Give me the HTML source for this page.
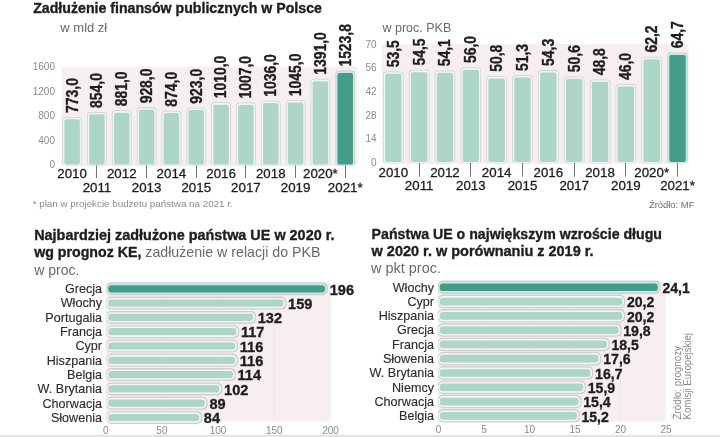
<!DOCTYPE html>
<html><head><meta charset="utf-8"><title>Zadłużenie finansów publicznych</title>
<style>
html,body{margin:0;padding:0;background:#fff;}
body{width:720px;height:437px;overflow:hidden;}
svg{display:block;font-family:'Liberation Sans', Arial, sans-serif;}
</style></head><body>
<svg width="720" height="437" viewBox="0 0 720 437">
<rect width="720" height="437" fill="#ffffff"/>
<text x="33.20" y="13.10" font-size="14.1" font-weight="bold" fill="#1e1e1e" text-anchor="start" textLength="288.7" lengthAdjust="spacingAndGlyphs" stroke="#1e1e1e" stroke-width="0.35">Zadłużenie finansów publicznych w Polsce</text>
<text x="60.30" y="31.70" font-size="13" fill="#6a6a6a" text-anchor="start" >w mld zł</text>
<rect x="61.50" y="66.60" width="296.00" height="99.40" rx="4" fill="#f7eef0" />
<text x="55.00" y="167.50" font-size="10" fill="#8a8a8a" text-anchor="end" >0</text>
<text x="55.00" y="144.02" font-size="10" fill="#8a8a8a" text-anchor="end" >400</text>
<text x="55.00" y="119.35" font-size="10" fill="#8a8a8a" text-anchor="end" >800</text>
<text x="55.00" y="94.67" font-size="10" fill="#8a8a8a" text-anchor="end" >1200</text>
<text x="55.00" y="70.00" font-size="10" fill="#8a8a8a" text-anchor="end" >1600</text>
<rect x="62.25" y="116.91" width="19.70" height="48.89" rx="3.5" fill="#d3cccf" />
<rect x="62.95" y="117.71" width="18.30" height="47.69" rx="3" fill="#eef8f4" />
<rect x="64.35" y="119.31" width="15.50" height="45.09" rx="2" fill="#aed6c8" />
<text transform="translate(77.50,112.91) rotate(-90) scale(0.87,1)" font-size="16" font-weight="bold" fill="#1e1e1e" stroke="#1e1e1e" stroke-width="0.35">773,0</text>
<rect x="87.08" y="111.92" width="19.70" height="53.88" rx="3.5" fill="#d3cccf" />
<rect x="87.78" y="112.72" width="18.30" height="52.68" rx="3" fill="#eef8f4" />
<rect x="89.18" y="114.32" width="15.50" height="50.08" rx="2" fill="#aed6c8" />
<text transform="translate(102.33,107.92) rotate(-90) scale(0.87,1)" font-size="16" font-weight="bold" fill="#1e1e1e" stroke="#1e1e1e" stroke-width="0.35">854,0</text>
<rect x="111.91" y="110.25" width="19.70" height="55.55" rx="3.5" fill="#d3cccf" />
<rect x="112.61" y="111.05" width="18.30" height="54.35" rx="3" fill="#eef8f4" />
<rect x="114.01" y="112.65" width="15.50" height="51.75" rx="2" fill="#aed6c8" />
<text transform="translate(127.16,106.25) rotate(-90) scale(0.87,1)" font-size="16" font-weight="bold" fill="#1e1e1e" stroke="#1e1e1e" stroke-width="0.35">881,0</text>
<rect x="136.74" y="107.35" width="19.70" height="58.45" rx="3.5" fill="#d3cccf" />
<rect x="137.44" y="108.15" width="18.30" height="57.25" rx="3" fill="#eef8f4" />
<rect x="138.84" y="109.75" width="15.50" height="54.65" rx="2" fill="#aed6c8" />
<text transform="translate(151.99,103.35) rotate(-90) scale(0.87,1)" font-size="16" font-weight="bold" fill="#1e1e1e" stroke="#1e1e1e" stroke-width="0.35">928,0</text>
<rect x="161.57" y="110.68" width="19.70" height="55.12" rx="3.5" fill="#d3cccf" />
<rect x="162.27" y="111.48" width="18.30" height="53.92" rx="3" fill="#eef8f4" />
<rect x="163.67" y="113.08" width="15.50" height="51.32" rx="2" fill="#aed6c8" />
<text transform="translate(176.82,106.68) rotate(-90) scale(0.87,1)" font-size="16" font-weight="bold" fill="#1e1e1e" stroke="#1e1e1e" stroke-width="0.35">874,0</text>
<rect x="186.40" y="107.66" width="19.70" height="58.14" rx="3.5" fill="#d3cccf" />
<rect x="187.10" y="108.46" width="18.30" height="56.94" rx="3" fill="#eef8f4" />
<rect x="188.50" y="110.06" width="15.50" height="54.34" rx="2" fill="#aed6c8" />
<text transform="translate(201.65,103.66) rotate(-90) scale(0.87,1)" font-size="16" font-weight="bold" fill="#1e1e1e" stroke="#1e1e1e" stroke-width="0.35">923,0</text>
<rect x="211.23" y="102.29" width="19.70" height="63.51" rx="3.5" fill="#d3cccf" />
<rect x="211.93" y="103.09" width="18.30" height="62.31" rx="3" fill="#eef8f4" />
<rect x="213.33" y="104.69" width="15.50" height="59.71" rx="2" fill="#aed6c8" />
<text transform="translate(226.48,98.29) rotate(-90) scale(0.87,1)" font-size="16" font-weight="bold" fill="#1e1e1e" stroke="#1e1e1e" stroke-width="0.35">1010,0</text>
<rect x="236.06" y="102.48" width="19.70" height="63.32" rx="3.5" fill="#d3cccf" />
<rect x="236.76" y="103.28" width="18.30" height="62.12" rx="3" fill="#eef8f4" />
<rect x="238.16" y="104.88" width="15.50" height="59.52" rx="2" fill="#aed6c8" />
<text transform="translate(251.31,98.48) rotate(-90) scale(0.87,1)" font-size="16" font-weight="bold" fill="#1e1e1e" stroke="#1e1e1e" stroke-width="0.35">1007,0</text>
<rect x="260.89" y="100.69" width="19.70" height="65.11" rx="3.5" fill="#d3cccf" />
<rect x="261.59" y="101.49" width="18.30" height="63.91" rx="3" fill="#eef8f4" />
<rect x="262.99" y="103.09" width="15.50" height="61.31" rx="2" fill="#aed6c8" />
<text transform="translate(276.14,96.69) rotate(-90) scale(0.87,1)" font-size="16" font-weight="bold" fill="#1e1e1e" stroke="#1e1e1e" stroke-width="0.35">1036,0</text>
<rect x="285.72" y="100.13" width="19.70" height="65.67" rx="3.5" fill="#d3cccf" />
<rect x="286.42" y="100.93" width="18.30" height="64.47" rx="3" fill="#eef8f4" />
<rect x="287.82" y="102.53" width="15.50" height="61.87" rx="2" fill="#aed6c8" />
<text transform="translate(300.97,96.13) rotate(-90) scale(0.87,1)" font-size="16" font-weight="bold" fill="#1e1e1e" stroke="#1e1e1e" stroke-width="0.35">1045,0</text>
<rect x="310.55" y="78.79" width="19.70" height="87.01" rx="3.5" fill="#d3cccf" />
<rect x="311.25" y="79.59" width="18.30" height="85.81" rx="3" fill="#eef8f4" />
<rect x="312.65" y="81.19" width="15.50" height="83.21" rx="2" fill="#aed6c8" />
<text transform="translate(325.80,74.79) rotate(-90) scale(0.87,1)" font-size="16" font-weight="bold" fill="#1e1e1e" stroke="#1e1e1e" stroke-width="0.35">1391,0</text>
<rect x="335.38" y="70.60" width="19.70" height="95.20" rx="3.5" fill="#d3cccf" />
<rect x="336.08" y="71.40" width="18.30" height="94.00" rx="3" fill="#c6ebe2" />
<rect x="337.48" y="73.00" width="15.50" height="91.40" rx="2" fill="#449d8a" />
<text transform="translate(350.63,66.60) rotate(-90) scale(0.87,1)" font-size="16" font-weight="bold" fill="#1e1e1e" stroke="#1e1e1e" stroke-width="0.35">1523,8</text>
<text transform="translate(72.10,177.90) scale(1.04,1)" font-size="12.8" fill="#1e1e1e" stroke="#1e1e1e" stroke-width="0.3" text-anchor="middle">2010</text>
<line x1="96.50" y1="165.40" x2="96.50" y2="178.00" stroke="#737373" stroke-width="1"/>
<text transform="translate(96.93,191.60) scale(1.04,1)" font-size="12.8" fill="#1e1e1e" stroke="#1e1e1e" stroke-width="0.3" text-anchor="middle">2011</text>
<text transform="translate(121.76,177.90) scale(1.04,1)" font-size="12.8" fill="#1e1e1e" stroke="#1e1e1e" stroke-width="0.3" text-anchor="middle">2012</text>
<line x1="146.50" y1="165.40" x2="146.50" y2="178.00" stroke="#737373" stroke-width="1"/>
<text transform="translate(146.59,191.60) scale(1.04,1)" font-size="12.8" fill="#1e1e1e" stroke="#1e1e1e" stroke-width="0.3" text-anchor="middle">2013</text>
<text transform="translate(171.42,177.90) scale(1.04,1)" font-size="12.8" fill="#1e1e1e" stroke="#1e1e1e" stroke-width="0.3" text-anchor="middle">2014</text>
<line x1="196.50" y1="165.40" x2="196.50" y2="178.00" stroke="#737373" stroke-width="1"/>
<text transform="translate(196.25,191.60) scale(1.04,1)" font-size="12.8" fill="#1e1e1e" stroke="#1e1e1e" stroke-width="0.3" text-anchor="middle">2015</text>
<text transform="translate(221.08,177.90) scale(1.04,1)" font-size="12.8" fill="#1e1e1e" stroke="#1e1e1e" stroke-width="0.3" text-anchor="middle">2016</text>
<line x1="245.50" y1="165.40" x2="245.50" y2="178.00" stroke="#737373" stroke-width="1"/>
<text transform="translate(245.91,191.60) scale(1.04,1)" font-size="12.8" fill="#1e1e1e" stroke="#1e1e1e" stroke-width="0.3" text-anchor="middle">2017</text>
<text transform="translate(270.74,177.90) scale(1.04,1)" font-size="12.8" fill="#1e1e1e" stroke="#1e1e1e" stroke-width="0.3" text-anchor="middle">2018</text>
<line x1="295.50" y1="165.40" x2="295.50" y2="178.00" stroke="#737373" stroke-width="1"/>
<text transform="translate(295.57,191.60) scale(1.04,1)" font-size="12.8" fill="#1e1e1e" stroke="#1e1e1e" stroke-width="0.3" text-anchor="middle">2019</text>
<text transform="translate(320.40,177.90) scale(1.04,1)" font-size="12.8" fill="#1e1e1e" stroke="#1e1e1e" stroke-width="0.3" text-anchor="middle">2020*</text>
<line x1="345.50" y1="165.40" x2="345.50" y2="178.00" stroke="#737373" stroke-width="1"/>
<text transform="translate(345.23,191.60) scale(1.04,1)" font-size="12.8" fill="#1e1e1e" stroke="#1e1e1e" stroke-width="0.3" text-anchor="middle">2021*</text>
<text x="32.70" y="207.20" font-size="9.8" fill="#8a8a8a" text-anchor="start" textLength="200" lengthAdjust="spacingAndGlyphs">* plan w projekcie budżetu państwa na 2021 r.</text>
<text x="382.50" y="32.00" font-size="12.5" fill="#6a6a6a" text-anchor="start" >w proc. PKB</text>
<rect x="381.50" y="44.00" width="307.30" height="119.70" rx="4" fill="#f7eef0" />
<text x="376.50" y="165.90" font-size="10" fill="#8a8a8a" text-anchor="end" >0</text>
<text x="376.50" y="142.48" font-size="10" fill="#8a8a8a" text-anchor="end" >14</text>
<text x="376.50" y="118.77" font-size="10" fill="#8a8a8a" text-anchor="end" >28</text>
<text x="376.50" y="95.05" font-size="10" fill="#8a8a8a" text-anchor="end" >42</text>
<text x="376.50" y="71.34" font-size="10" fill="#8a8a8a" text-anchor="end" >56</text>
<text x="376.50" y="47.62" font-size="10" fill="#8a8a8a" text-anchor="end" >70</text>
<rect x="383.00" y="71.47" width="20.60" height="91.83" rx="3.5" fill="#d3cccf" />
<rect x="383.70" y="72.27" width="19.20" height="90.63" rx="3" fill="#eef8f4" />
<rect x="385.10" y="73.87" width="16.40" height="88.03" rx="2" fill="#aed6c8" />
<text transform="translate(398.70,67.27) rotate(-90) scale(0.87,1)" font-size="16" font-weight="bold" fill="#1e1e1e" stroke="#1e1e1e" stroke-width="0.35">53,5</text>
<rect x="408.84" y="69.78" width="20.60" height="93.52" rx="3.5" fill="#d3cccf" />
<rect x="409.54" y="70.58" width="19.20" height="92.32" rx="3" fill="#eef8f4" />
<rect x="410.94" y="72.18" width="16.40" height="89.72" rx="2" fill="#aed6c8" />
<text transform="translate(424.54,65.58) rotate(-90) scale(0.87,1)" font-size="16" font-weight="bold" fill="#1e1e1e" stroke="#1e1e1e" stroke-width="0.35">54,5</text>
<rect x="434.68" y="70.45" width="20.60" height="92.85" rx="3.5" fill="#d3cccf" />
<rect x="435.38" y="71.25" width="19.20" height="91.65" rx="3" fill="#eef8f4" />
<rect x="436.78" y="72.85" width="16.40" height="89.05" rx="2" fill="#aed6c8" />
<text transform="translate(450.38,66.25) rotate(-90) scale(0.87,1)" font-size="16" font-weight="bold" fill="#1e1e1e" stroke="#1e1e1e" stroke-width="0.35">54,1</text>
<rect x="460.52" y="67.24" width="20.60" height="96.06" rx="3.5" fill="#d3cccf" />
<rect x="461.22" y="68.04" width="19.20" height="94.86" rx="3" fill="#eef8f4" />
<rect x="462.62" y="69.64" width="16.40" height="92.26" rx="2" fill="#aed6c8" />
<text transform="translate(476.22,63.04) rotate(-90) scale(0.87,1)" font-size="16" font-weight="bold" fill="#1e1e1e" stroke="#1e1e1e" stroke-width="0.35">56,0</text>
<rect x="486.36" y="76.04" width="20.60" height="87.26" rx="3.5" fill="#d3cccf" />
<rect x="487.06" y="76.84" width="19.20" height="86.06" rx="3" fill="#eef8f4" />
<rect x="488.46" y="78.44" width="16.40" height="83.46" rx="2" fill="#aed6c8" />
<text transform="translate(502.06,71.84) rotate(-90) scale(0.87,1)" font-size="16" font-weight="bold" fill="#1e1e1e" stroke="#1e1e1e" stroke-width="0.35">50,8</text>
<rect x="512.20" y="75.20" width="20.60" height="88.10" rx="3.5" fill="#d3cccf" />
<rect x="512.90" y="76.00" width="19.20" height="86.90" rx="3" fill="#eef8f4" />
<rect x="514.30" y="77.60" width="16.40" height="84.30" rx="2" fill="#aed6c8" />
<text transform="translate(527.90,71.00) rotate(-90) scale(0.87,1)" font-size="16" font-weight="bold" fill="#1e1e1e" stroke="#1e1e1e" stroke-width="0.35">51,3</text>
<rect x="538.04" y="70.12" width="20.60" height="93.18" rx="3.5" fill="#d3cccf" />
<rect x="538.74" y="70.92" width="19.20" height="91.98" rx="3" fill="#eef8f4" />
<rect x="540.14" y="72.52" width="16.40" height="89.38" rx="2" fill="#aed6c8" />
<text transform="translate(553.74,65.92) rotate(-90) scale(0.87,1)" font-size="16" font-weight="bold" fill="#1e1e1e" stroke="#1e1e1e" stroke-width="0.35">54,3</text>
<rect x="563.88" y="76.38" width="20.60" height="86.92" rx="3.5" fill="#d3cccf" />
<rect x="564.58" y="77.18" width="19.20" height="85.72" rx="3" fill="#eef8f4" />
<rect x="565.98" y="78.78" width="16.40" height="83.12" rx="2" fill="#aed6c8" />
<text transform="translate(579.58,72.18) rotate(-90) scale(0.87,1)" font-size="16" font-weight="bold" fill="#1e1e1e" stroke="#1e1e1e" stroke-width="0.35">50,6</text>
<rect x="589.72" y="79.43" width="20.60" height="83.87" rx="3.5" fill="#d3cccf" />
<rect x="590.42" y="80.23" width="19.20" height="82.67" rx="3" fill="#eef8f4" />
<rect x="591.82" y="81.83" width="16.40" height="80.07" rx="2" fill="#aed6c8" />
<text transform="translate(605.42,75.23) rotate(-90) scale(0.87,1)" font-size="16" font-weight="bold" fill="#1e1e1e" stroke="#1e1e1e" stroke-width="0.35">48,8</text>
<rect x="615.56" y="84.18" width="20.60" height="79.12" rx="3.5" fill="#d3cccf" />
<rect x="616.26" y="84.98" width="19.20" height="77.92" rx="3" fill="#eef8f4" />
<rect x="617.66" y="86.58" width="16.40" height="75.32" rx="2" fill="#aed6c8" />
<text transform="translate(631.26,79.98) rotate(-90) scale(0.87,1)" font-size="16" font-weight="bold" fill="#1e1e1e" stroke="#1e1e1e" stroke-width="0.35">46,0</text>
<rect x="641.40" y="56.73" width="20.60" height="106.57" rx="3.5" fill="#d3cccf" />
<rect x="642.10" y="57.53" width="19.20" height="105.37" rx="3" fill="#eef8f4" />
<rect x="643.50" y="59.13" width="16.40" height="102.77" rx="2" fill="#aed6c8" />
<text transform="translate(657.10,52.53) rotate(-90) scale(0.87,1)" font-size="16" font-weight="bold" fill="#1e1e1e" stroke="#1e1e1e" stroke-width="0.35">62,2</text>
<rect x="667.24" y="52.50" width="20.60" height="110.80" rx="3.5" fill="#d3cccf" />
<rect x="667.94" y="53.30" width="19.20" height="109.60" rx="3" fill="#c6ebe2" />
<rect x="669.34" y="54.90" width="16.40" height="107.00" rx="2" fill="#449d8a" />
<text transform="translate(682.94,48.30) rotate(-90) scale(0.87,1)" font-size="16" font-weight="bold" fill="#1e1e1e" stroke="#1e1e1e" stroke-width="0.35">64,7</text>
<text transform="translate(393.30,176.70) scale(1.04,1)" font-size="12.8" fill="#1e1e1e" stroke="#1e1e1e" stroke-width="0.3" text-anchor="middle">2010</text>
<line x1="419.50" y1="162.90" x2="419.50" y2="176.70" stroke="#737373" stroke-width="1"/>
<text transform="translate(419.14,190.00) scale(1.04,1)" font-size="12.8" fill="#1e1e1e" stroke="#1e1e1e" stroke-width="0.3" text-anchor="middle">2011</text>
<text transform="translate(444.98,176.70) scale(1.04,1)" font-size="12.8" fill="#1e1e1e" stroke="#1e1e1e" stroke-width="0.3" text-anchor="middle">2012</text>
<line x1="470.50" y1="162.90" x2="470.50" y2="176.70" stroke="#737373" stroke-width="1"/>
<text transform="translate(470.82,190.00) scale(1.04,1)" font-size="12.8" fill="#1e1e1e" stroke="#1e1e1e" stroke-width="0.3" text-anchor="middle">2013</text>
<text transform="translate(496.66,176.70) scale(1.04,1)" font-size="12.8" fill="#1e1e1e" stroke="#1e1e1e" stroke-width="0.3" text-anchor="middle">2014</text>
<line x1="522.50" y1="162.90" x2="522.50" y2="176.70" stroke="#737373" stroke-width="1"/>
<text transform="translate(522.50,190.00) scale(1.04,1)" font-size="12.8" fill="#1e1e1e" stroke="#1e1e1e" stroke-width="0.3" text-anchor="middle">2015</text>
<text transform="translate(548.34,176.70) scale(1.04,1)" font-size="12.8" fill="#1e1e1e" stroke="#1e1e1e" stroke-width="0.3" text-anchor="middle">2016</text>
<line x1="574.50" y1="162.90" x2="574.50" y2="176.70" stroke="#737373" stroke-width="1"/>
<text transform="translate(574.18,190.00) scale(1.04,1)" font-size="12.8" fill="#1e1e1e" stroke="#1e1e1e" stroke-width="0.3" text-anchor="middle">2017</text>
<text transform="translate(600.02,176.70) scale(1.04,1)" font-size="12.8" fill="#1e1e1e" stroke="#1e1e1e" stroke-width="0.3" text-anchor="middle">2018</text>
<line x1="625.50" y1="162.90" x2="625.50" y2="176.70" stroke="#737373" stroke-width="1"/>
<text transform="translate(625.86,190.00) scale(1.04,1)" font-size="12.8" fill="#1e1e1e" stroke="#1e1e1e" stroke-width="0.3" text-anchor="middle">2019</text>
<text transform="translate(651.70,176.70) scale(1.04,1)" font-size="12.8" fill="#1e1e1e" stroke="#1e1e1e" stroke-width="0.3" text-anchor="middle">2020*</text>
<line x1="677.50" y1="162.90" x2="677.50" y2="176.70" stroke="#737373" stroke-width="1"/>
<text transform="translate(677.54,190.00) scale(1.04,1)" font-size="12.8" fill="#1e1e1e" stroke="#1e1e1e" stroke-width="0.3" text-anchor="middle">2021*</text>
<text x="648.90" y="207.80" font-size="9.5" fill="#6a6a6a" text-anchor="start" textLength="45.5" lengthAdjust="spacingAndGlyphs">Źródło: MF</text>
<text x="34.20" y="240.20" font-size="14.4" font-weight="bold" fill="#1e1e1e" text-anchor="start" textLength="300.3" lengthAdjust="spacingAndGlyphs" stroke="#1e1e1e" stroke-width="0.35">Najbardziej zadłużone państwa UE w 2020 r.</text>
<text x="34.2" y="256.9" font-size="14.2" fill="#1e1e1e"><tspan font-weight="bold" stroke="#1e1e1e" stroke-width="0.35">wg prognoz KE,</tspan><tspan fill="#6a6a6a"> zadłużenie w relacji do PKB</tspan></text>
<text x="34.20" y="274.80" font-size="14" fill="#6a6a6a" text-anchor="start" >w proc.</text>
<rect x="105.40" y="282.40" width="225.90" height="139.10" rx="5" fill="#f7eef0" />
<line x1="161.90" y1="283.00" x2="161.90" y2="421.00" stroke="#eee2e6" stroke-width="0.8"/>
<line x1="218.10" y1="283.00" x2="218.10" y2="421.00" stroke="#eee2e6" stroke-width="0.8"/>
<line x1="274.30" y1="283.00" x2="274.30" y2="421.00" stroke="#eee2e6" stroke-width="0.8"/>
<rect x="106.40" y="282.30" width="221.50" height="13.00" rx="5" fill="#d3cccf" />
<rect x="106.70" y="283.60" width="220.10" height="10.40" rx="4.5" fill="#c6ebe2" />
<rect x="108.20" y="285.20" width="216.90" height="7.20" rx="3.2" fill="#449d8a" />
<text x="102.00" y="293.10" font-size="12.6" fill="#2e2e2e" text-anchor="end" stroke="#2e2e2e" stroke-width="0.15">Grecja</text>
<text transform="translate(329.70,294.50) scale(0.94,1)" font-size="15.5" font-weight="bold" fill="#1e1e1e" stroke="#1e1e1e" stroke-width="0.35">196</text>
<rect x="106.40" y="296.60" width="179.92" height="13.00" rx="5" fill="#d3cccf" />
<rect x="106.70" y="297.90" width="178.52" height="10.40" rx="4.5" fill="#eef8f4" />
<rect x="108.20" y="299.50" width="175.32" height="7.20" rx="3.2" fill="#aed6c8" />
<text x="102.00" y="307.40" font-size="12.6" fill="#2e2e2e" text-anchor="end" stroke="#2e2e2e" stroke-width="0.15">Włochy</text>
<text transform="translate(288.12,308.80) scale(0.94,1)" font-size="15.5" font-weight="bold" fill="#1e1e1e" stroke="#1e1e1e" stroke-width="0.35">159</text>
<rect x="106.40" y="310.90" width="149.57" height="13.00" rx="5" fill="#d3cccf" />
<rect x="106.70" y="312.20" width="148.17" height="10.40" rx="4.5" fill="#eef8f4" />
<rect x="108.20" y="313.80" width="144.97" height="7.20" rx="3.2" fill="#aed6c8" />
<text x="102.00" y="321.70" font-size="12.6" fill="#2e2e2e" text-anchor="end" stroke="#2e2e2e" stroke-width="0.15">Portugalia</text>
<text transform="translate(257.77,323.10) scale(0.94,1)" font-size="15.5" font-weight="bold" fill="#1e1e1e" stroke="#1e1e1e" stroke-width="0.35">132</text>
<rect x="106.40" y="325.20" width="132.71" height="13.00" rx="5" fill="#d3cccf" />
<rect x="106.70" y="326.50" width="131.31" height="10.40" rx="4.5" fill="#eef8f4" />
<rect x="108.20" y="328.10" width="128.11" height="7.20" rx="3.2" fill="#aed6c8" />
<text x="102.00" y="336.00" font-size="12.6" fill="#2e2e2e" text-anchor="end" stroke="#2e2e2e" stroke-width="0.15">Francja</text>
<text transform="translate(240.91,337.40) scale(0.94,1)" font-size="15.5" font-weight="bold" fill="#1e1e1e" stroke="#1e1e1e" stroke-width="0.35">117</text>
<rect x="106.40" y="339.50" width="131.58" height="13.00" rx="5" fill="#d3cccf" />
<rect x="106.70" y="340.80" width="130.18" height="10.40" rx="4.5" fill="#eef8f4" />
<rect x="108.20" y="342.40" width="126.98" height="7.20" rx="3.2" fill="#aed6c8" />
<text x="102.00" y="350.30" font-size="12.6" fill="#2e2e2e" text-anchor="end" stroke="#2e2e2e" stroke-width="0.15">Cypr</text>
<text transform="translate(239.78,351.70) scale(0.94,1)" font-size="15.5" font-weight="bold" fill="#1e1e1e" stroke="#1e1e1e" stroke-width="0.35">116</text>
<rect x="106.40" y="353.80" width="131.58" height="13.00" rx="5" fill="#d3cccf" />
<rect x="106.70" y="355.10" width="130.18" height="10.40" rx="4.5" fill="#eef8f4" />
<rect x="108.20" y="356.70" width="126.98" height="7.20" rx="3.2" fill="#aed6c8" />
<text x="102.00" y="364.60" font-size="12.6" fill="#2e2e2e" text-anchor="end" stroke="#2e2e2e" stroke-width="0.15">Hiszpania</text>
<text transform="translate(239.78,366.00) scale(0.94,1)" font-size="15.5" font-weight="bold" fill="#1e1e1e" stroke="#1e1e1e" stroke-width="0.35">116</text>
<rect x="106.40" y="368.10" width="129.34" height="13.00" rx="5" fill="#d3cccf" />
<rect x="106.70" y="369.40" width="127.94" height="10.40" rx="4.5" fill="#eef8f4" />
<rect x="108.20" y="371.00" width="124.74" height="7.20" rx="3.2" fill="#aed6c8" />
<text x="102.00" y="378.90" font-size="12.6" fill="#2e2e2e" text-anchor="end" stroke="#2e2e2e" stroke-width="0.15">Belgia</text>
<text transform="translate(237.54,380.30) scale(0.94,1)" font-size="15.5" font-weight="bold" fill="#1e1e1e" stroke="#1e1e1e" stroke-width="0.35">114</text>
<rect x="106.40" y="382.40" width="115.85" height="13.00" rx="5" fill="#d3cccf" />
<rect x="106.70" y="383.70" width="114.45" height="10.40" rx="4.5" fill="#eef8f4" />
<rect x="108.20" y="385.30" width="111.25" height="7.20" rx="3.2" fill="#aed6c8" />
<text x="102.00" y="393.20" font-size="12.6" fill="#2e2e2e" text-anchor="end" stroke="#2e2e2e" stroke-width="0.15">W. Brytania</text>
<text transform="translate(224.05,394.60) scale(0.94,1)" font-size="15.5" font-weight="bold" fill="#1e1e1e" stroke="#1e1e1e" stroke-width="0.35">102</text>
<rect x="106.40" y="396.70" width="101.24" height="13.00" rx="5" fill="#d3cccf" />
<rect x="106.70" y="398.00" width="99.84" height="10.40" rx="4.5" fill="#eef8f4" />
<rect x="108.20" y="399.60" width="96.64" height="7.20" rx="3.2" fill="#aed6c8" />
<text x="102.00" y="407.50" font-size="12.6" fill="#2e2e2e" text-anchor="end" stroke="#2e2e2e" stroke-width="0.15">Chorwacja</text>
<text transform="translate(209.44,408.90) scale(0.94,1)" font-size="15.5" font-weight="bold" fill="#1e1e1e" stroke="#1e1e1e" stroke-width="0.35">89</text>
<rect x="106.40" y="411.00" width="95.62" height="13.00" rx="5" fill="#d3cccf" />
<rect x="106.70" y="412.30" width="94.22" height="10.40" rx="4.5" fill="#eef8f4" />
<rect x="108.20" y="413.90" width="91.02" height="7.20" rx="3.2" fill="#aed6c8" />
<text x="102.00" y="421.80" font-size="12.6" fill="#2e2e2e" text-anchor="end" stroke="#2e2e2e" stroke-width="0.15">Słowenia</text>
<text transform="translate(203.82,423.20) scale(0.94,1)" font-size="15.5" font-weight="bold" fill="#1e1e1e" stroke="#1e1e1e" stroke-width="0.35">84</text>
<text x="105.70" y="433.50" font-size="10" fill="#8a8a8a" text-anchor="middle" >0</text>
<text x="161.90" y="433.50" font-size="10" fill="#8a8a8a" text-anchor="middle" >50</text>
<text x="218.10" y="433.50" font-size="10" fill="#8a8a8a" text-anchor="middle" >100</text>
<text x="274.30" y="433.50" font-size="10" fill="#8a8a8a" text-anchor="middle" >150</text>
<text x="330.50" y="433.50" font-size="10" fill="#8a8a8a" text-anchor="middle" >200</text>
<text x="371.60" y="239.10" font-size="14.2" font-weight="bold" fill="#1e1e1e" text-anchor="start" textLength="290.4" lengthAdjust="spacingAndGlyphs" stroke="#1e1e1e" stroke-width="0.35">Państwa UE o największym wzroście długu</text>
<text x="371.60" y="256.20" font-size="14.3" font-weight="bold" fill="#1e1e1e" text-anchor="start" textLength="222" lengthAdjust="spacingAndGlyphs" stroke="#1e1e1e" stroke-width="0.35">w 2020 r. w porównaniu z 2019 r.</text>
<text x="371.00" y="273.30" font-size="14.3" fill="#6a6a6a" text-anchor="start" textLength="70" lengthAdjust="spacingAndGlyphs">w pkt proc.</text>
<rect x="437.40" y="281.00" width="228.40" height="140.70" rx="4" fill="#f7eef0" />
<line x1="484.00" y1="281.50" x2="484.00" y2="421.00" stroke="#eee2e6" stroke-width="0.8"/>
<line x1="529.50" y1="281.50" x2="529.50" y2="421.00" stroke="#eee2e6" stroke-width="0.8"/>
<line x1="575.00" y1="281.50" x2="575.00" y2="421.00" stroke="#eee2e6" stroke-width="0.8"/>
<line x1="620.50" y1="281.50" x2="620.50" y2="421.00" stroke="#eee2e6" stroke-width="0.8"/>
<rect x="438.00" y="280.50" width="222.61" height="13.50" rx="5" fill="#d3cccf" />
<rect x="438.30" y="281.80" width="221.21" height="10.90" rx="4.5" fill="#c6ebe2" />
<rect x="439.80" y="283.40" width="218.01" height="7.70" rx="3.2" fill="#449d8a" />
<text x="434.00" y="291.50" font-size="12.6" fill="#2e2e2e" text-anchor="end" stroke="#2e2e2e" stroke-width="0.15">Włochy</text>
<text transform="translate(662.41,293.00) scale(0.91,1)" font-size="15.5" font-weight="bold" fill="#1e1e1e" stroke="#1e1e1e" stroke-width="0.35">24,1</text>
<rect x="438.00" y="294.79" width="187.12" height="13.50" rx="5" fill="#d3cccf" />
<rect x="438.30" y="296.09" width="185.72" height="10.90" rx="4.5" fill="#eef8f4" />
<rect x="439.80" y="297.69" width="182.52" height="7.70" rx="3.2" fill="#aed6c8" />
<text x="434.00" y="305.79" font-size="12.6" fill="#2e2e2e" text-anchor="end" stroke="#2e2e2e" stroke-width="0.15">Cypr</text>
<text transform="translate(626.92,307.29) scale(0.91,1)" font-size="15.5" font-weight="bold" fill="#1e1e1e" stroke="#1e1e1e" stroke-width="0.35">20,2</text>
<rect x="438.00" y="309.08" width="187.12" height="13.50" rx="5" fill="#d3cccf" />
<rect x="438.30" y="310.38" width="185.72" height="10.90" rx="4.5" fill="#eef8f4" />
<rect x="439.80" y="311.98" width="182.52" height="7.70" rx="3.2" fill="#aed6c8" />
<text x="434.00" y="320.08" font-size="12.6" fill="#2e2e2e" text-anchor="end" stroke="#2e2e2e" stroke-width="0.15">Hiszpania</text>
<text transform="translate(626.92,321.58) scale(0.91,1)" font-size="15.5" font-weight="bold" fill="#1e1e1e" stroke="#1e1e1e" stroke-width="0.35">20,2</text>
<rect x="438.00" y="323.37" width="183.48" height="13.50" rx="5" fill="#d3cccf" />
<rect x="438.30" y="324.67" width="182.08" height="10.90" rx="4.5" fill="#eef8f4" />
<rect x="439.80" y="326.27" width="178.88" height="7.70" rx="3.2" fill="#aed6c8" />
<text x="434.00" y="334.37" font-size="12.6" fill="#2e2e2e" text-anchor="end" stroke="#2e2e2e" stroke-width="0.15">Grecja</text>
<text transform="translate(623.28,335.87) scale(0.91,1)" font-size="15.5" font-weight="bold" fill="#1e1e1e" stroke="#1e1e1e" stroke-width="0.35">19,8</text>
<rect x="438.00" y="337.66" width="171.65" height="13.50" rx="5" fill="#d3cccf" />
<rect x="438.30" y="338.96" width="170.25" height="10.90" rx="4.5" fill="#eef8f4" />
<rect x="439.80" y="340.56" width="167.05" height="7.70" rx="3.2" fill="#aed6c8" />
<text x="434.00" y="348.66" font-size="12.6" fill="#2e2e2e" text-anchor="end" stroke="#2e2e2e" stroke-width="0.15">Francja</text>
<text transform="translate(611.45,350.16) scale(0.91,1)" font-size="15.5" font-weight="bold" fill="#1e1e1e" stroke="#1e1e1e" stroke-width="0.35">18,5</text>
<rect x="438.00" y="351.95" width="163.46" height="13.50" rx="5" fill="#d3cccf" />
<rect x="438.30" y="353.25" width="162.06" height="10.90" rx="4.5" fill="#eef8f4" />
<rect x="439.80" y="354.85" width="158.86" height="7.70" rx="3.2" fill="#aed6c8" />
<text x="434.00" y="362.95" font-size="12.6" fill="#2e2e2e" text-anchor="end" stroke="#2e2e2e" stroke-width="0.15">Słowenia</text>
<text transform="translate(603.26,364.45) scale(0.91,1)" font-size="15.5" font-weight="bold" fill="#1e1e1e" stroke="#1e1e1e" stroke-width="0.35">17,6</text>
<rect x="438.00" y="366.24" width="155.27" height="13.50" rx="5" fill="#d3cccf" />
<rect x="438.30" y="367.54" width="153.87" height="10.90" rx="4.5" fill="#eef8f4" />
<rect x="439.80" y="369.14" width="150.67" height="7.70" rx="3.2" fill="#aed6c8" />
<text x="434.00" y="377.24" font-size="12.6" fill="#2e2e2e" text-anchor="end" stroke="#2e2e2e" stroke-width="0.15">W. Brytania</text>
<text transform="translate(595.07,378.74) scale(0.91,1)" font-size="15.5" font-weight="bold" fill="#1e1e1e" stroke="#1e1e1e" stroke-width="0.35">16,7</text>
<rect x="438.00" y="380.53" width="147.99" height="13.50" rx="5" fill="#d3cccf" />
<rect x="438.30" y="381.83" width="146.59" height="10.90" rx="4.5" fill="#eef8f4" />
<rect x="439.80" y="383.43" width="143.39" height="7.70" rx="3.2" fill="#aed6c8" />
<text x="434.00" y="391.53" font-size="12.6" fill="#2e2e2e" text-anchor="end" stroke="#2e2e2e" stroke-width="0.15">Niemcy</text>
<text transform="translate(587.79,393.03) scale(0.91,1)" font-size="15.5" font-weight="bold" fill="#1e1e1e" stroke="#1e1e1e" stroke-width="0.35">15,9</text>
<rect x="438.00" y="394.82" width="143.44" height="13.50" rx="5" fill="#d3cccf" />
<rect x="438.30" y="396.12" width="142.04" height="10.90" rx="4.5" fill="#eef8f4" />
<rect x="439.80" y="397.72" width="138.84" height="7.70" rx="3.2" fill="#aed6c8" />
<text x="434.00" y="405.82" font-size="12.6" fill="#2e2e2e" text-anchor="end" stroke="#2e2e2e" stroke-width="0.15">Chorwacja</text>
<text transform="translate(583.24,407.32) scale(0.91,1)" font-size="15.5" font-weight="bold" fill="#1e1e1e" stroke="#1e1e1e" stroke-width="0.35">15,4</text>
<rect x="438.00" y="409.11" width="141.62" height="13.50" rx="5" fill="#d3cccf" />
<rect x="438.30" y="410.41" width="140.22" height="10.90" rx="4.5" fill="#eef8f4" />
<rect x="439.80" y="412.01" width="137.02" height="7.70" rx="3.2" fill="#aed6c8" />
<text x="434.00" y="420.11" font-size="12.6" fill="#2e2e2e" text-anchor="end" stroke="#2e2e2e" stroke-width="0.15">Belgia</text>
<text transform="translate(581.42,421.61) scale(0.91,1)" font-size="15.5" font-weight="bold" fill="#1e1e1e" stroke="#1e1e1e" stroke-width="0.35">15,2</text>
<text x="438.50" y="432.70" font-size="10" fill="#8a8a8a" text-anchor="middle" >0</text>
<text x="484.00" y="432.70" font-size="10" fill="#8a8a8a" text-anchor="middle" >5</text>
<text x="529.50" y="432.70" font-size="10" fill="#8a8a8a" text-anchor="middle" >10</text>
<text x="575.00" y="432.70" font-size="10" fill="#8a8a8a" text-anchor="middle" >15</text>
<text x="620.50" y="432.70" font-size="10" fill="#8a8a8a" text-anchor="middle" >20</text>
<text x="666.00" y="432.70" font-size="10" fill="#8a8a8a" text-anchor="middle" >25</text>
<text transform="translate(681.3,419.5) rotate(-90)" font-size="10" fill="#8a8a8a" textLength="73.5" lengthAdjust="spacingAndGlyphs">Źródło: prognozy</text>
<text transform="translate(691.3,419.5) rotate(-90)" font-size="10" fill="#8a8a8a" textLength="86.5" lengthAdjust="spacingAndGlyphs">Komisji Europejskiej</text>
<rect x="0.00" y="434.80" width="720.00" height="2.20" rx="0" fill="#e3e3df" />
</svg>
</body></html>
